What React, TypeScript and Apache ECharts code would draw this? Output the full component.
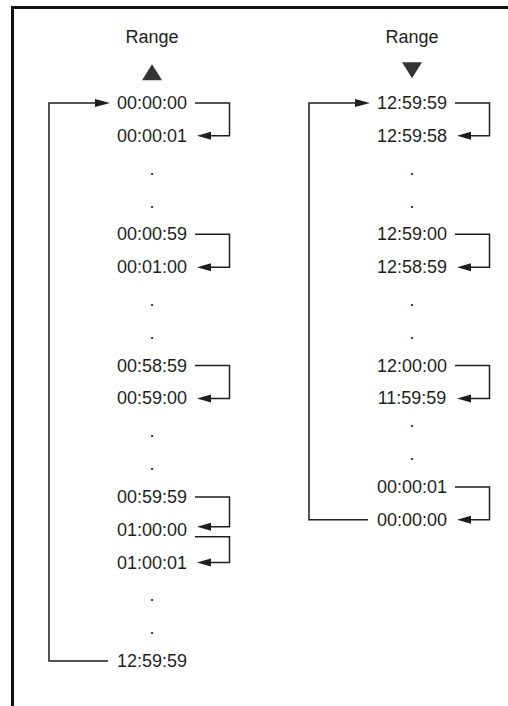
import React, { useEffect, useRef } from 'react';
import * as echarts from 'echarts';

// ---- data ----
const headerTitles = ['Range', 'Range'];
const headerArrows = ['up', 'down'];

const leftLabels = [
  '00:00:00', '00:00:01', '.', '.', '00:00:59', '00:01:00', '.', '.',
  '00:58:59', '00:59:00', '.', '.', '00:59:59', '01:00:00', '01:00:01', '.', '.', '12:59:59',
];
const leftRows = [0, 1, 2, 3, 4, 5, 6, 7, 8, 9, 10, 11, 12, 13, 14, 15, 16, 17];

const rightLabels = [
  '12:59:59', '12:59:58', '.', '.', '12:59:00', '12:58:59', '.', '.',
  '12:00:00', '11:59:59', '.', '.', '00:00:01', '00:00:00',
];
const rightRows = [0, 1, 2, 3, 4, 5, 6, 7, 8, 9, 9.7, 10.7, 11.7, 12.7];

// step arrows: [from label index, to label index]
const leftSteps = [[0, 1], [4, 5], [8, 9], [12, 13], [13, 14]];
const rightSteps = [[0, 1], [4, 5], [8, 9], [12, 13]];

// wrap-around loops: [from label index, to label index]
const leftLoop = [17, 0];
const rightLoop = [13, 0];

const HEADER_ROW = -2;
const ARROW_ROW = -1;

const INK = '#1e1e1e';
const FONT = '"Liberation Sans", Arial, Helvetica, sans-serif';

const columns = [
  { labels: leftLabels, rows: leftRows, steps: leftSteps, loop: leftLoop },
  { labels: rightLabels, rows: rightRows, steps: rightSteps, loop: rightLoop },
];

export default function App() {
  const ref = useRef<HTMLDivElement>(null);

  useEffect(() => {
    if (!ref.current) return;
    const chart = echarts.init(ref.current, null, { renderer: 'svg' });

    const labelItems: { col: number; row: number; text: string }[] = [];
    columns.forEach((c, ci) => {
      c.labels.forEach((t, i) => labelItems.push({ col: ci, row: c.rows[i], text: t }));
    });
    headerTitles.forEach((t, ci) => labelItems.push({ col: ci, row: HEADER_ROW, text: t }));

    // bracket data [col, fromRow, toRow, fromOffset, toOffset]
    const stepData: number[][] = [];
    columns.forEach((c, ci) => {
      const toSet = new Set(c.steps.map((s) => s[1]));
      const fromSet = new Set(c.steps.map((s) => s[0]));
      c.steps.forEach(([f, t]) => {
        const fromOff = toSet.has(f) ? 7 : 0;
        const toOff = fromSet.has(t) ? -3 : 0;
        stepData.push([ci, c.rows[f], c.rows[t], fromOff, toOff]);
      });
    });

    const loopData = columns.map((c, ci) => [ci, c.rows[c.loop[0]], c.rows[c.loop[1]]]);

    const option: any = {
      animation: false,
      backgroundColor: '#ffffff',
      grid: { left: 152, right: 96, top: 37.4, bottom: 45, containLabel: false },
      xAxis: { type: 'value', min: 0, max: 1, show: false },
      yAxis: { type: 'value', inverse: true, min: -2, max: 17, show: false },
      graphic: [
        { type: 'line', shape: { x1: 11, y1: 7.5, x2: 508, y2: 7.5 }, style: { stroke: '#111', lineWidth: 3 } },
        { type: 'line', shape: { x1: 12.5, y1: 6, x2: 12.5, y2: 706 }, style: { stroke: '#111', lineWidth: 3 } },
      ],
      series: [
        {
          type: 'custom',
          coordinateSystem: 'cartesian2d',
          data: labelItems.map((d) => [d.col, d.row]),
          renderItem: (params: any, api: any) => {
            const p = api.coord([api.value(0), api.value(1)]);
            return {
              type: 'text',
              x: p[0],
              y: p[1],
              style: {
                text: labelItems[params.dataIndex].text,
                fill: INK,
                fontSize: 18,
                fontFamily: FONT,
                align: 'center',
                verticalAlign: 'middle',
              },
            };
          },
        },
        {
          type: 'scatter',
          data: headerArrows.map((d, ci) => ({
            value: [ci, ARROW_ROW],
            symbolRotate: d === 'down' ? 180 : 0,
            symbolOffset: [0, d === 'down' ? 0 : 2],
          })),
          symbol: 'triangle',
          symbolSize: [20, 16],
          itemStyle: { color: '#000' },
        },
        {
          type: 'custom',
          coordinateSystem: 'cartesian2d',
          data: stepData,
          renderItem: (params: any, api: any) => {
            const c = api.value(0);
            const a = api.coord([c, api.value(1)]);
            const b = api.coord([c, api.value(2)]);
            const y1 = a[1] + api.value(3);
            const y2 = b[1] + api.value(4);
            const xs = a[0] + 43;
            const xr = a[0] + 77.5;
            const tip = a[0] + 45;
            return {
              type: 'group',
              children: [
                {
                  type: 'polyline',
                  shape: { points: [[xs, y1], [xr, y1], [xr, y2], [tip + 10, y2]] },
                  style: { stroke: INK, lineWidth: 1.5, fill: null },
                },
                {
                  type: 'polygon',
                  shape: { points: [[tip, y2], [tip + 14, y2 - 4], [tip + 14, y2 + 4]] },
                  style: { fill: INK },
                },
              ],
            };
          },
        },
        {
          type: 'custom',
          coordinateSystem: 'cartesian2d',
          data: loopData,
          renderItem: (params: any, api: any) => {
            const c = api.value(0);
            const a = api.coord([c, api.value(1)]);
            const b = api.coord([c, api.value(2)]);
            const xv = a[0] - 103;
            const tip = b[0] - 42;
            return {
              type: 'group',
              children: [
                {
                  type: 'polyline',
                  shape: { points: [[a[0] - 44, a[1]], [xv, a[1]], [xv, b[1]], [tip - 10, b[1]]] },
                  style: { stroke: INK, lineWidth: 1.5, fill: null },
                },
                {
                  type: 'polygon',
                  shape: { points: [[tip, b[1]], [tip - 15, b[1] - 4], [tip - 15, b[1] + 4]] },
                  style: { fill: INK },
                },
              ],
            };
          },
        },
      ],
    };

    chart.setOption(option);
    return () => chart.dispose();
  }, []);

  return (
    <div
      ref={ref}
      style={{ position: 'fixed', left: 0, top: 0, width: 508, height: 706, background: '#fff' }}
    />
  );
}
